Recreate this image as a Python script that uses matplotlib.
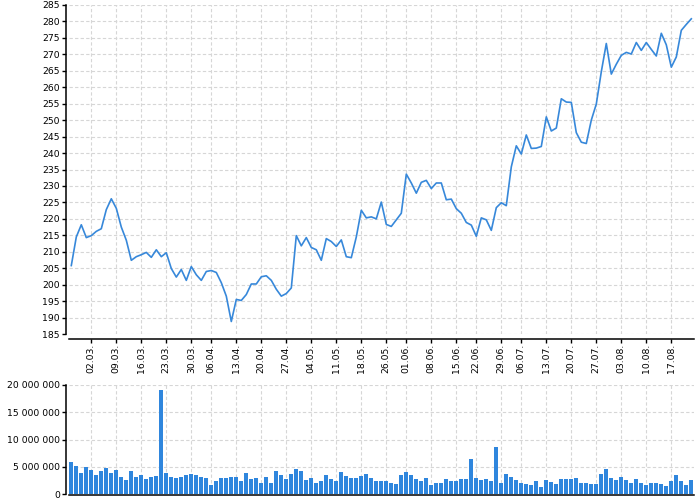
import matplotlib
matplotlib.use("Agg")
import matplotlib.pyplot as plt
from matplotlib.ticker import FuncFormatter

prices = [205.8, 214.5, 218.2, 214.3, 214.9, 216.2, 217.0, 222.8, 226.1, 223.2,
          217.5, 213.5, 207.4, 208.5, 209.1, 209.8, 208.3, 210.6, 208.5, 209.7,
          204.9, 202.3, 204.6, 201.3, 205.5, 203.0, 201.3, 204.0, 204.3, 203.7,
          200.6, 196.5, 188.8, 195.5, 195.2, 197.0, 200.2, 200.2, 202.4, 202.7,
          201.3, 198.6, 196.5, 197.3, 199.0, 214.9, 211.8, 214.3, 211.3, 210.6,
          207.4, 214.0, 213.1, 211.6, 213.6, 208.5, 208.2, 214.5, 222.6, 220.3,
          220.6, 220.0, 225.1, 218.3, 217.7, 219.7, 221.7, 233.6, 230.9, 227.8,
          231.1, 231.7, 229.2, 230.9, 230.9, 225.8, 226.0, 223.1, 221.7, 218.9,
          218.1, 214.7, 220.3, 219.7, 216.5, 223.4, 224.9, 224.0, 235.8, 242.2,
          239.7, 245.5, 241.4, 241.5, 242.0, 251.0, 246.7, 247.6, 256.5, 255.5,
          255.4, 246.2, 243.3, 242.9, 250.0, 254.9, 264.7, 273.3, 264.0, 267.0,
          269.7, 270.6, 270.1, 273.6, 271.2, 273.6, 271.5, 269.5, 276.4, 272.9,
          266.1, 269.2, 277.3, 279.1, 280.8]

volumes_m = [5.8, 5.1, 3.9, 5.0, 4.4, 3.5, 4.2, 4.8, 3.9, 4.4,
             3.2, 2.6, 4.2, 3.1, 3.4, 2.75, 3.2, 3.3, 19.1, 3.8,
             3.1, 2.9, 3.1, 3.5, 3.7, 3.4, 3.1, 2.9, 1.65, 2.3,
             2.9, 3.0, 3.2, 3.1, 2.45, 3.8, 2.75, 2.9, 2.0, 3.1,
             2.0, 4.2, 3.4, 2.7, 3.6, 4.5, 4.3, 2.6, 3.0, 2.1,
             2.3, 3.5, 2.8, 2.3, 4.0, 3.3, 2.9, 2.9, 3.3, 3.6,
             2.9, 2.3, 2.3, 2.4, 2.0, 1.8, 3.4, 4.0, 3.5, 2.75,
             2.3, 3.0, 1.65, 2.1, 2.1, 2.75, 2.3, 2.4, 2.7, 2.75,
             6.5, 3.0, 2.6, 2.75, 2.3, 8.6, 2.0, 3.6, 3.1, 2.6,
             2.0, 1.8, 1.7, 2.3, 1.3, 2.6, 2.2, 1.8, 2.7, 2.7,
             2.8, 2.9, 2.0, 2.0, 1.8, 1.8, 3.7, 4.6, 2.9, 2.5,
             3.1, 2.6, 2.0, 2.75, 2.1, 1.7, 2.1, 2.1, 1.9, 1.5,
             2.3, 3.4, 2.4, 1.65, 2.6]

tick_idx = [4, 9, 14, 19, 24, 28, 33, 38, 43, 48, 53, 58, 63, 67, 72, 77, 81,
            86, 90, 95, 100, 105, 110, 115, 120]
tick_labels = ['02.03.', '09.03.', '16.03.', '23.03.', '30.03.', '06.04.',
               '13.04.', '20.04.', '27.04.', '04.05.', '11.05.', '18.05.',
               '26.05.', '01.06.', '08.06.', '15.06.', '22.06.', '29.06.',
               '06.07.', '13.07.', '20.07.', '27.07.', '03.08.', '10.08.',
               '17.08.']

volumes = [v * 1_000_000 for v in volumes_m]
x = list(range(len(prices)))

plt.rcParams['font.family'] = ['DejaVu Sans']
fig = plt.figure(figsize=(7, 5), dpi=100)
W, H = 700, 500
left_px, right_px = 68.8, 693.8

ax = fig.add_axes([left_px / W, (H - 334) / H, (right_px - left_px) / W, 329 / H])
axv = fig.add_axes([left_px / W, (H - 494) / H, (right_px - left_px) / W, 109 / H])

line_color = '#3788da'
bar_color = '#2f86dd'
grid_kw = dict(color='#d6d6d6', linestyle=(0, (3, 2)), linewidth=0.8)

# spine positions first (setting them resets tick properties)
ax.spines['left'].set_position(('outward', 2.2))
ax.spines['bottom'].set_position(('outward', 3.3))
axv.spines['left'].set_position(('outward', 2.2))
axv.spines['bottom'].set_position(('outward', 0.5))

for a in (ax, axv):
    a.set_xlim(-0.5, len(prices) - 0.5)
    a.spines['top'].set_visible(False)
    a.spines['right'].set_visible(False)
    for s in ('left', 'bottom'):
        a.spines[s].set_linewidth(1.1)
    a.grid(True, **grid_kw)
    a.set_axisbelow(True)
    a.set_xticks(tick_idx)
    a.tick_params(axis='both', labelsize=6.7, length=3, width=1.0, pad=1.2)

ax.plot(x, prices, color=line_color, linewidth=1.2, solid_joinstyle='round')
ax.set_ylim(185, 285)
ax.set_yticks(range(185, 286, 5))
ax.set_xticklabels(tick_labels, rotation=90)
ax.tick_params(axis='x', pad=0.8)
ax.spines['left'].set_bounds(185, 285)

axv.bar(x, volumes, width=0.8, color=bar_color, linewidth=0)
axv.set_ylim(0, 20_000_000)
axv.set_yticks(range(0, 20_000_001, 5_000_000))
axv.yaxis.set_major_formatter(FuncFormatter(lambda v, p: f"{int(v):,}".replace(',', ' ')))
axv.tick_params(axis='x', length=0, labelbottom=False)

fig.savefig('out.png', dpi=100)
